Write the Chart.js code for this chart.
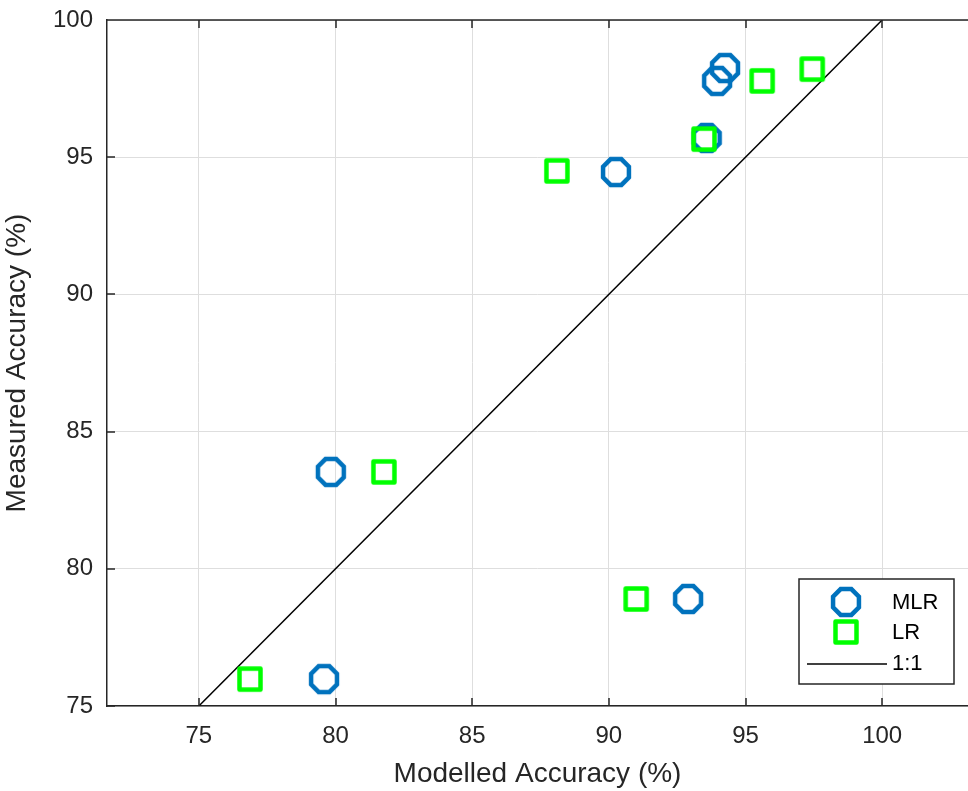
<!DOCTYPE html>
<html>
<head>
<meta charset="utf-8">
<script src="https://cdn.jsdelivr.net/npm/chart.js@4"></script>
<style>
	html, body { margin: 0; padding: 0; background: #fff; }
	#chart { display: block; }
</style>
</head>
<body>
<canvas id="chart" width="968" height="791"></canvas>
<script>
(() => {
	'use strict'

	// data
	const xTicks = [75, 80, 85, 90, 95, 100];
	const yTicks = [75, 80, 85, 90, 95, 100];
	const mlrX = [94.25, 93.96, 93.58, 90.26, 79.83, 92.9, 79.58];
	const mlrY = [98.25, 97.78, 95.7, 94.46, 83.53, 78.9, 75.98];
	const lrX = [97.44, 95.61, 93.48, 88.1, 81.77, 91.0, 76.87];
	const lrY = [98.21, 97.78, 95.66, 94.5, 83.53, 78.9, 75.98];
	const oneToOne = [75, 100];

	const blue = '#0072BD';
	const green = '#00FF00';
	const ink = '#262626';
	const font = '"Liberation Sans", Arial, Helvetica, sans-serif';

	// octagon marker
	const octagon = document.createElement('canvas');
	octagon.width = 36;
	octagon.height = 36;
	(() => {
		const c = octagon.getContext('2d');
		c.strokeStyle = blue;
		c.lineWidth = 4.5;
		c.beginPath();
		for (let i = 0; i < 8; i++) {
			const a = Math.PI / 8 + i * Math.PI / 4;
			const px = 18 + 14 * Math.cos(a);
			const py = 18 + 14 * Math.sin(a);
			if (i === 0) c.moveTo(px, py); else c.lineTo(px, py);
		}
		c.closePath();
		c.stroke();
	})();

	// square marker
	const square = document.createElement('canvas');
	square.width = 28;
	square.height = 28;
	(() => {
		const c = square.getContext('2d');
		c.strokeStyle = green;
		c.lineWidth = 4.5;
		c.lineJoin = 'round';
		c.strokeRect(3.5, 3.5, 21, 21);
	})();

	const toPoints = (xs, ys) => xs.map((x, i) => ({ x: x, y: ys[i] }));

	// box top edge, inward ticks and the legend
	const extras = {
		id: 'extras',
		afterDatasetsDraw(chart) {
			const { ctx, chartArea, scales } = chart;
			ctx.save();
			ctx.strokeStyle = ink;
			ctx.lineWidth = 1.5;
			ctx.beginPath();
			ctx.moveTo(chartArea.left, chartArea.top);
			ctx.lineTo(chartArea.right, chartArea.top);
			xTicks.forEach((v) => {
				const px = Math.round(scales.x.getPixelForValue(v));
				ctx.moveTo(px, chartArea.bottom);
				ctx.lineTo(px, chartArea.bottom - 8);
				ctx.moveTo(px, chartArea.top);
				ctx.lineTo(px, chartArea.top + 8);
			});
			yTicks.forEach((v) => {
				const py = Math.round(scales.y.getPixelForValue(v));
				ctx.moveTo(chartArea.left, py);
				ctx.lineTo(chartArea.left + 8, py);
			});
			ctx.stroke();

			// legend
			const lx = 799, ly = 579, lw = 155, lh = 105;
			ctx.fillStyle = '#fff';
			ctx.fillRect(lx, ly, lw, lh);
			ctx.strokeStyle = ink;
			ctx.lineWidth = 1.5;
			ctx.strokeRect(lx, ly, lw, lh);
			ctx.drawImage(octagon, 846 - 18, 602 - 18);
			ctx.drawImage(square, 846 - 14, 632 - 14);
			ctx.strokeStyle = '#000';
			ctx.lineWidth = 1.5;
			ctx.beginPath();
			ctx.moveTo(807, 664);
			ctx.lineTo(887, 664);
			ctx.stroke();
			ctx.fillStyle = '#000';
			ctx.font = '22px ' + font;
			ctx.textBaseline = 'middle';
			ctx.fillText('MLR', 892, 603);
			ctx.fillText('LR', 892, 633);
			ctx.fillText('1:1', 892, 664);
			ctx.restore();
		}
	};

	const ctx = document.getElementById('chart');
	// eslint-disable-next-line no-unused-vars
	const myChart = new Chart(ctx, {
		type: 'scatter',
		data: {
			datasets: [{
				label: '1:1',
				type: 'line',
				data: toPoints(oneToOne, oneToOne),
				borderColor: '#000',
				borderWidth: 1.5,
				pointRadius: 0,
				fill: false,
				order: 3
			}, {
				label: 'MLR',
				data: toPoints(mlrX, mlrY),
				pointStyle: octagon,
				pointRadius: 15,
				order: 2
			}, {
				label: 'LR',
				data: toPoints(lrX, lrY),
				pointStyle: square,
				pointRadius: 13,
				order: 1
			}]
		},
		options: {
			responsive: false,
			animation: false,
			layout: {
				autoPadding: false,
				padding: { top: 20, right: 0, bottom: 0, left: 0 }
			},
			scales: {
				x: {
					type: 'linear',
					min: 71.64,
					max: 103.14,
					afterBuildTicks: (scale) => {
						scale.ticks = xTicks.map((v) => ({ value: v }));
					},
					afterFit: (scale) => {
						scale.height = 85;
						scale.paddingLeft = 0;
						scale.paddingRight = 0;
					},
					grid: {
						color: '#dedede',
						lineWidth: 1,
						drawTicks: false
					},
					border: { color: ink, width: 1.5 },
					ticks: {
						color: ink,
						padding: 16,
						font: { family: font, size: 24 }
					},
					title: {
						display: true,
						text: 'Modelled Accuracy (%)',
						color: ink,
						padding: { top: 6, bottom: 0 },
						font: { family: font, size: 28 }
					}
				},
				y: {
					type: 'linear',
					min: 75,
					max: 100,
					afterBuildTicks: (scale) => {
						scale.ticks = yTicks.map((v) => ({ value: v }));
					},
					afterFit: (scale) => {
						scale.width = 107;
						scale.paddingTop = 0;
						scale.paddingBottom = 0;
					},
					grid: {
						color: '#dedede',
						lineWidth: 1,
						drawTicks: false
					},
					border: { color: ink, width: 1.5 },
					ticks: {
						color: ink,
						padding: 14,
						font: { family: font, size: 24 }
					},
					title: {
						display: true,
						text: 'Measured Accuracy (%)',
						color: ink,
						padding: { top: 0, bottom: 6 },
						font: { family: font, size: 28 }
					}
				}
			},
			plugins: {
				legend: { display: false },
				tooltip: { enabled: false }
			}
		},
		plugins: [extras]
	})
})();
</script>
</body>
</html>
